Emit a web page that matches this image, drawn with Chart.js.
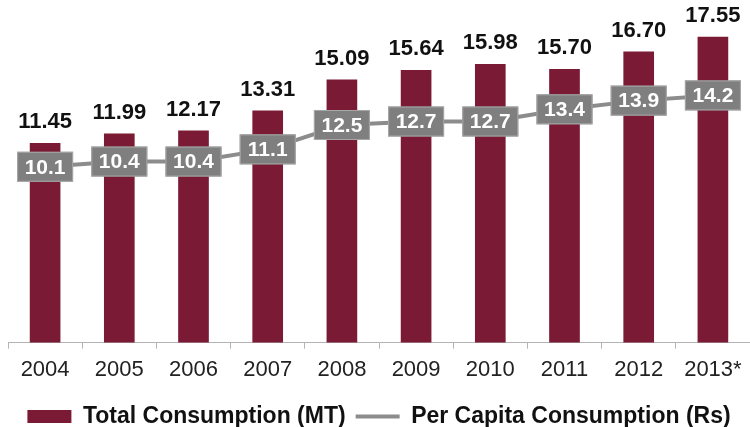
<!DOCTYPE html>
<html>
<head>
<meta charset="utf-8">
<script src="https://cdn.jsdelivr.net/npm/chart.js@4"></script>
<style>
  html, body { margin: 0; padding: 0; background: #fff; }
  #wrap { width: 750px; height: 427px; }
</style>
</head>
<body>
<div id="wrap"><canvas id="consumptionChart"></canvas></div>
<script>
// values
const years = ['2004', '2005', '2006', '2007', '2008', '2009', '2010', '2011', '2012', '2013*'];
const totalConsumption = [11.45, 11.99, 12.17, 13.31, 15.09, 15.64, 15.98, 15.70, 16.70, 17.55];
const perCapita = [10.1, 10.4, 10.4, 11.1, 12.5, 12.7, 12.7, 13.4, 13.9, 14.2];

const maroon = '#7a1a34';
const grey = '#8c8c8c';
const fontFamily = '"Liberation Sans", Arial, sans-serif';

// labels above the bars and grey boxes on the line
const valueLabels = {
    id: 'valueLabels',
    afterDatasetsDraw(chart) {
        const ctx = chart.ctx;
        ctx.save();
        ctx.textAlign = 'center';
        ctx.textBaseline = 'middle';

        chart.getDatasetMeta(0).data.forEach((bar, i) => {
            ctx.font = 'bold 22px ' + fontFamily;
            ctx.fillStyle = '#111';
            ctx.fillText(totalConsumption[i].toFixed(2), bar.x, bar.y - 21);
        });

        chart.getDatasetMeta(1).data.forEach((pt, i) => {
            const w = 56, h = 30;
            ctx.fillStyle = '#7f7f7f';
            ctx.fillRect(pt.x - w / 2, pt.y - h / 2, w, h);
            ctx.strokeStyle = '#a8a8a8';
            ctx.lineWidth = 1;
            ctx.strokeRect(pt.x - w / 2 + 0.5, pt.y - h / 2 + 0.5, w - 1, h - 1);
            ctx.font = 'bold 21px ' + fontFamily;
            ctx.fillStyle = '#fff';
            ctx.fillText(perCapita[i].toFixed(1), pt.x, pt.y + 1);
        });
        ctx.restore();
    }
};

const ctx = document.getElementById('consumptionChart').getContext('2d');
new Chart(ctx, {
    type: 'bar',
    data: {
        labels: years,
        datasets: [
            {
                label: 'Total Consumption (MT)',
                data: totalConsumption,
                backgroundColor: maroon,
                borderWidth: 0,
                barThickness: 30,
                pointStyle: 'rect',
                order: 2
            },
            {
                type: 'line',
                label: 'Per Capita Consumption (Rs)',
                data: perCapita,
                borderColor: grey,
                backgroundColor: grey,
                borderWidth: 4,
                pointRadius: 0,
                pointStyle: 'line',
                tension: 0,
                order: 1
            }
        ]
    },
    options: {
        responsive: true,
        maintainAspectRatio: false,
        animation: false,
        layout: { padding: { left: 8, right: 0, top: 0, bottom: 0 } },
        plugins: {
            legend: {
                position: 'bottom',
                maxHeight: 32,
                labels: {
                    usePointStyle: true,
                    pointStyleWidth: 44,
                    boxHeight: 13,
                    padding: 10,
                    color: '#111',
                    font: { family: fontFamily, size: 23, weight: 'bold' },
                    sort: (a, b) => a.datasetIndex - b.datasetIndex
                }
            },
            tooltip: { enabled: false }
        },
        scales: {
            x: {
                grid: {
                    offset: true,
                    drawOnChartArea: false,
                    tickLength: 6,
                    color: '#b3b3b3'
                },
                border: { color: '#b3b3b3', width: 1 },
                ticks: {
                    color: '#222',
                    padding: 8,
                    font: { family: fontFamily, size: 22 }
                },
                afterFit: (scale) => { scale.height += 4; }
            },
            y: {
                display: false,
                min: 0,
                max: 19.68
            }
        }
    },
    plugins: [valueLabels]
});
</script>
</body>
</html>
